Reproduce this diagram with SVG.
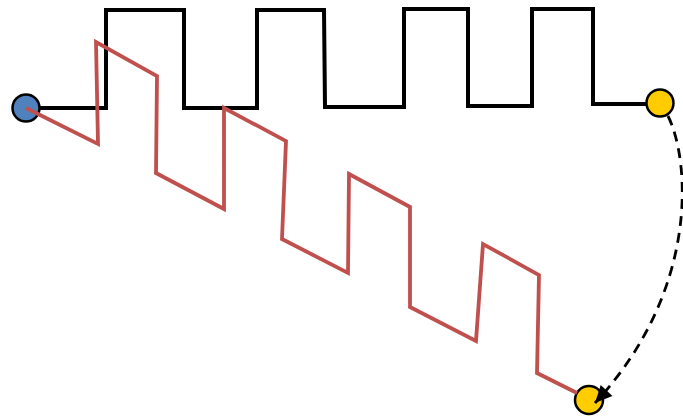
<svg xmlns="http://www.w3.org/2000/svg" width="683" height="420" viewBox="0 0 683 420">
<style>
.node{stroke:#000;stroke-width:2.5}
.blk{fill:none;stroke:#000;stroke-width:4;stroke-linejoin:miter}
.red{fill:none;stroke:#C0504D;stroke-width:3.8;stroke-linejoin:miter}
.dash{fill:none;stroke:#000;stroke-width:2.8;stroke-dasharray:10 7}
</style>
<defs>
<marker id="ah" markerUnits="userSpaceOnUse" markerWidth="20" markerHeight="18" refX="17" refY="8" orient="auto" overflow="visible">
<path d="M0,0 L17,8 L0,16 Z" fill="#000"/>
</marker>
</defs>
<g id="start"><circle cx="26" cy="108" r="13.5" fill="#4F81BD" class="node"/></g>
<g id="end-top"><circle cx="660" cy="103" r="13.5" fill="#FFCC00" class="node"/></g>
<g id="end-bottom"><circle cx="589" cy="400" r="14" fill="#FFCC00" class="node"/></g>
<g id="connectors">
<path class="blk" d="M40,108 H106 V10 H184 V108 H257 V10 H324 L325,107 H404 V9 H468 V106 H532 V9 H593 V104 H646"/>
<path class="red" d="M26,108 L98,144 L96,42 L157,76 L156,173 L224,209 L224,108 L286,141 L282,239 L348,273 L349,174 L410,207 L410,307 L476,341 L483,244 L539,275 L537,373 L577,393"/>
<path class="dash" d="M668,116 C690,160 700,290 595,403" marker-end="url(#ah)"/>
</g>
</svg>
